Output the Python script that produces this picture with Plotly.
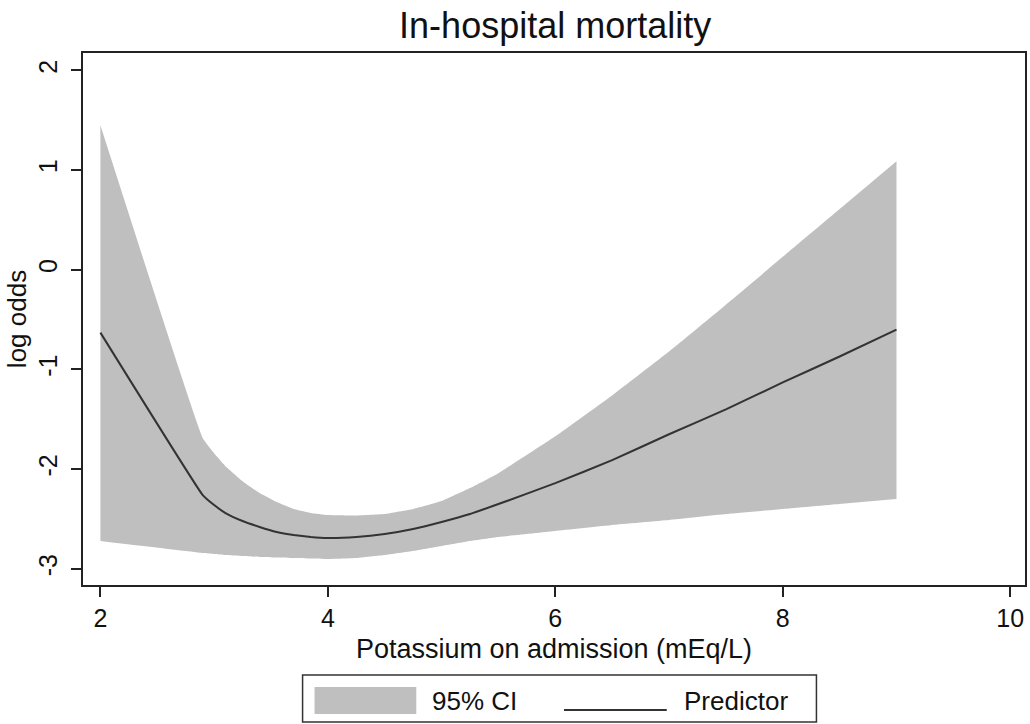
import plotly.graph_objects as go

# Potassium on admission (mEq/L)
potassium = [2.0, 2.9, 3.0, 3.1, 3.25, 3.4, 3.55, 3.7, 3.85, 4.0, 4.25, 4.5, 4.75, 5.0, 5.25, 5.5,
             6.0, 6.5, 7.0, 7.5, 8.0, 8.5, 9.0]
# Predicted log odds
predictor = [-0.63, -2.26, -2.36, -2.44, -2.52, -2.58, -2.63, -2.66, -2.68, -2.69, -2.68, -2.65, -2.60,
             -2.53, -2.45, -2.35, -2.14, -1.91, -1.65, -1.40, -1.13, -0.87, -0.60]
# 95% CI bounds
ci_upper = [1.45, -1.69, -1.84, -1.97, -2.12, -2.24, -2.33, -2.40, -2.44, -2.46, -2.465, -2.45, -2.40,
            -2.32, -2.19, -2.04, -1.67, -1.26, -0.82, -0.35, 0.13, 0.61, 1.09]
ci_lower = [-2.72, -2.84, -2.85, -2.86, -2.87, -2.88, -2.885, -2.89, -2.895, -2.90, -2.89, -2.86, -2.82,
            -2.77, -2.72, -2.68, -2.62, -2.56, -2.51, -2.45, -2.40, -2.35, -2.30]

x_ticks = [2, 4, 6, 8, 10]
y_ticks = [-3, -2, -1, 0, 1, 2]
legend_labels = ["95% CI", "Predictor"]

FONT = "Liberation Sans, Arial, Helvetica, sans-serif"
AX = "#222222"
BAND = "#bfbfbf"
LINE = "#333333"

fig = go.Figure()
fig.add_trace(go.Scatter(x=potassium, y=ci_lower, mode="lines",
                         line=dict(width=0, color=BAND, shape="spline", smoothing=0.3),
                         showlegend=False, hoverinfo="skip"))
fig.add_trace(go.Scatter(x=potassium, y=ci_upper, mode="lines",
                         line=dict(width=0, color=BAND, shape="spline", smoothing=0.3),
                         fill="tonexty", fillcolor=BAND, name=legend_labels[0], showlegend=False))
fig.add_trace(go.Scatter(x=potassium, y=predictor, mode="lines",
                         line=dict(width=2, color=LINE, shape="spline", smoothing=0.3),
                         name=legend_labels[1], showlegend=False))

# Legend drawn as a boxed key below the plot (Stata style)
fig.add_shape(type="rect", xref="paper", yref="paper", x0=0.2331, x1=0.7786, y0=-0.1692, y1=-0.2575,
              line=dict(color="#333333", width=1.5), fillcolor="white")
fig.add_shape(type="rect", xref="paper", yref="paper", x0=0.2458, x1=0.3538, y0=-0.1917, y1=-0.2425,
              line=dict(width=0), fillcolor=BAND)
fig.add_shape(type="line", xref="paper", yref="paper", x0=0.5106, x1=0.6197, y0=-0.2350, y1=-0.2350,
              line=dict(color=LINE, width=2))
fig.add_annotation(text=legend_labels[0], xref="paper", yref="paper", x=0.3680, y=-0.2180,
                   xanchor="left", yanchor="middle", showarrow=False, font=dict(size=26, family=FONT))
fig.add_annotation(text=legend_labels[1], xref="paper", yref="paper", x=0.6360, y=-0.2180,
                   xanchor="left", yanchor="middle", showarrow=False, font=dict(size=26, family=FONT))

fig.update_layout(
    width=1030, height=724,
    margin=dict(l=83, r=3, t=53, b=139),
    paper_bgcolor="white", plot_bgcolor="white",
    font=dict(family=FONT, color="#111111", size=24),
    title=dict(text="In-hospital mortality", x=0.539, xanchor="center", y=0.965, yanchor="middle",
               font=dict(size=36, family=FONT, color="#111111")),
    showlegend=False,
)
fig.update_xaxes(range=[1.847, 10.13], tickvals=x_ticks, ticktext=[str(v) for v in x_ticks],
                 showline=True, linecolor=AX, linewidth=2, mirror=True, ticks="outside", ticklen=10,
                 tickwidth=1.5, tickcolor=AX, showgrid=False, zeroline=False,
                 tickfont=dict(size=25),
                 title=dict(text="Potassium on admission (mEq/L)", font=dict(size=27), standoff=8))
fig.update_yaxes(range=[-3.162, 2.175], tickvals=y_ticks, ticktext=[str(v) for v in y_ticks],
                 showline=True, linecolor=AX, linewidth=2, mirror=True, ticks="outside", ticklen=10,
                 tickwidth=1.5, tickcolor=AX, showgrid=False, zeroline=False, tickangle=-90,
                 tickfont=dict(size=25), ticklabelstandoff=4,
                 title=dict(text="log odds", font=dict(size=26), standoff=0))

fig.write_html("out.html")
